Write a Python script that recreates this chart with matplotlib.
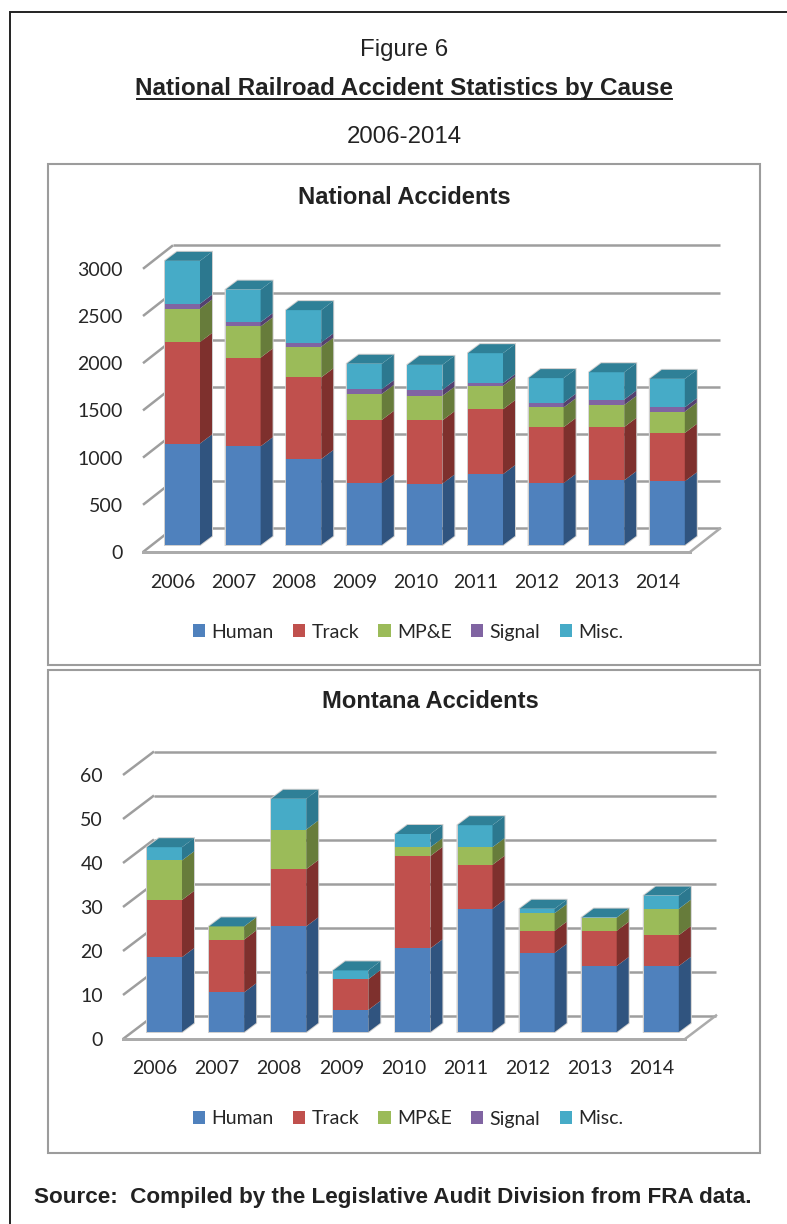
import matplotlib
matplotlib.use('Agg')
import matplotlib.pyplot as plt
from matplotlib.lines import Line2D
from matplotlib.patches import Patch, Rectangle

W, H = 787, 1224
DPI = 100

years = ['2006', '2007', '2008', '2009', '2010', '2011', '2012', '2013', '2014']
causes = ['Human', 'Track', 'MP&E', 'Signal', 'Misc.']

nat_human = [1075, 1045, 910, 655, 650, 750, 655, 685, 675]
nat_track = [1075, 940, 865, 670, 670, 688, 593, 565, 512]
nat_mpe = [355, 330, 325, 275, 260, 248, 209, 233, 226]
nat_signal = [50, 45, 45, 50, 63, 28, 49, 57, 46]
nat_misc = [455, 345, 343, 270, 265, 318, 262, 290, 301]
nat_ticks = [0, 500, 1000, 1500, 2000, 2500, 3000]

mt_human = [17, 9, 24, 5, 19, 28, 18, 15, 15]
mt_track = [13, 12, 13, 7, 21, 10, 5, 8, 7]
mt_mpe = [9, 3, 9, 0, 2, 4, 4, 3, 6]
mt_signal = [0, 0, 0, 0, 0, 0, 0, 0, 0]
mt_misc = [3, 0, 7, 2, 3, 5, 1, 0, 3]
mt_ticks = [0, 10, 20, 30, 40, 50, 60]

front = ['#4F81BD', '#C0504D', '#9BBB59', '#8064A2', '#46ABC7']
side = ['#30547F', '#7E302D', '#677C3B', '#54406F', '#2C788F']
top_col = '#2F8097'
grid_col = '#9E9E9E'
text_col = '#262626'

plt.rcParams['font.family'] = ['Liberation Sans', 'DejaVu Sans']
fig = plt.figure(figsize=(W / DPI, H / DPI), dpi=DPI)


def fx(x):
    return x / W


def fy(y):
    return 1 - y / H


def px(n):
    return n * 72 / DPI


def frame(x0, y0, x1, y1, color, lw):
    fig.add_artist(Rectangle((fx(x0), fy(y1)), (x1 - x0) / W, (y1 - y0) / H, fill=False,
                             edgecolor=color, linewidth=lw, transform=fig.transFigure))


def panel(series, ticks, scale, left, right, floor_y, top_y, first_x, pitch, depth, xpad):
    # scale is pixels per unit, the bars stand 7 px behind the floor line
    ax = fig.add_axes([fx(left), fy(floor_y), (right - left) / W, (floor_y - top_y) / H])
    ax.patch.set_alpha(0)
    for s in ax.spines.values():
        s.set_visible(False)
    ax.set_xlim((left - first_x) / pitch, (right - first_x) / pitch)
    ax.set_ylim(-7 / scale, (floor_y - 7 - top_y) / scale)

    # depth of the chart box and of a bar, in data units
    box_dx, box_dy = depth / pitch, 23.5 / scale
    bar_dx, bar_dy = 12 / pitch, 9 / scale
    half = 17.5 / pitch
    x_left = ax.get_xlim()[0]
    x_right = ax.get_xlim()[1]

    for t in ticks:
        y = t - 7 / scale
        ax.plot([x_left, x_left + box_dx], [y, y + box_dy], color=grid_col, lw=px(2.5), solid_capstyle='butt', clip_on=False)
        ax.plot([x_left + box_dx, x_right], [y + box_dy, y + box_dy], color=grid_col, lw=px(2.5), solid_capstyle='butt', clip_on=False)
    y0 = -7 / scale
    ax.plot([x_left, x_right - box_dx], [y0, y0], color='#ABABAB', lw=px(3), clip_on=False)
    ax.plot([x_right - box_dx, x_right], [y0, y0 + box_dy], color='#ABABAB', lw=px(2.5), clip_on=False)

    xs = list(range(len(years)))
    totals = [sum(s[i] for s in series) for i in xs]
    for i in xs:
        # pale rim round the whole bar
        ax.fill([i - half, i + half, i + half + bar_dx, i + half + bar_dx, i - half + bar_dx, i - half],
                [0, 0, bar_dy, totals[i] + bar_dy, totals[i] + bar_dy, totals[i]],
                facecolor='none', edgecolor='#CFCFCF', linewidth=px(2), zorder=2.5)

    bottoms = [0] * len(xs)
    for k, vals in enumerate(series):
        ax.bar(xs, vals, width=2 * half, bottom=bottoms, color=front[k], linewidth=0, zorder=3)
        for i in xs:
            if vals[i] == 0:
                continue
            xr = i + half
            ax.fill([xr, xr + bar_dx, xr + bar_dx, xr],
                    [bottoms[i], bottoms[i] + bar_dy, bottoms[i] + vals[i] + bar_dy, bottoms[i] + vals[i]],
                    color=side[k], linewidth=0, zorder=3)
        bottoms = [b + v for b, v in zip(bottoms, vals)]
    for i in xs:
        ax.fill([i - half, i + half, i + half + bar_dx, i - half + bar_dx],
                [bottoms[i], bottoms[i], bottoms[i] + bar_dy, bottoms[i] + bar_dy],
                color=top_col, linewidth=0, zorder=3)

    ax.set_yticks([t - 7 / scale for t in ticks])
    ax.set_yticklabels([str(t) for t in ticks], family=['Lato', 'DejaVu Sans'], fontsize=14, color=text_col)
    ax.set_xticks([i - 9.5 / pitch for i in xs])
    ax.set_xticklabels(years, family=['Lato', 'DejaVu Sans'], fontsize=14, color=text_col)
    ax.tick_params(axis='y', length=0, pad=px(20))
    ax.tick_params(axis='x', length=0, pad=px(xpad))
    return ax


def legend(y):
    handles = [Patch(facecolor=c, linewidth=0) for c in front]
    fig.legend(handles, causes, loc='center', bbox_to_anchor=(fx(408), fy(y)), ncols=5, frameon=False,
               prop={'family': ['Lato', 'DejaVu Sans'], 'size': 14}, labelcolor=text_col,
               handlelength=0.62, handleheight=0.62, handletextpad=0.32, columnspacing=1.0)


# outer box and the two chart boxes
frame(10, 12, 800, 1240, '#222222', 1.4)
frame(48, 164, 760, 665, '#9C9C9C', 1.5)
frame(48, 670, 760, 1153, '#9C9C9C', 1.5)

fig.text(fx(404), fy(50), 'Figure 6', fontsize=17.3, ha='center', va='center', color='#222222')
fig.text(fx(404), fy(88), 'National Railroad Accident Statistics by Cause', fontsize=17.45, fontweight='bold',
         ha='center', va='center', color='#222222')
fig.add_artist(Line2D([fx(137), fx(672)], [fy(99), fy(99)], color='#222222', lw=1.4))
fig.text(fx(404), fy(137), '2006-2014', fontsize=17.3, ha='center', va='center', color='#222222')
fig.text(fx(404), fy(198), 'National Accidents', fontsize=17.1, fontweight='bold', ha='center', va='center', color='#222222')
fig.text(fx(430), fy(702), 'Montana Accidents', fontsize=17.1, fontweight='bold', ha='center', va='center', color='#222222')

panel([nat_human, nat_track, nat_mpe, nat_signal, nat_misc], nat_ticks, 0.0944, 143, 720, 552, 240, 182.5, 60.6, 30, 22)
panel([mt_human, mt_track, mt_mpe, mt_signal, mt_misc], mt_ticks, 4.4, 123, 716, 1039, 745, 164.5, 62.1, 31, 21)

legend(632)
legend(1119)

fig.text(fx(34), fy(1197), 'Source:  Compiled by the Legislative Audit Division from FRA data.', fontsize=16.2,
         fontweight='bold', ha='left', va='center', color='#222222')

fig.savefig('out.png', dpi=DPI)
